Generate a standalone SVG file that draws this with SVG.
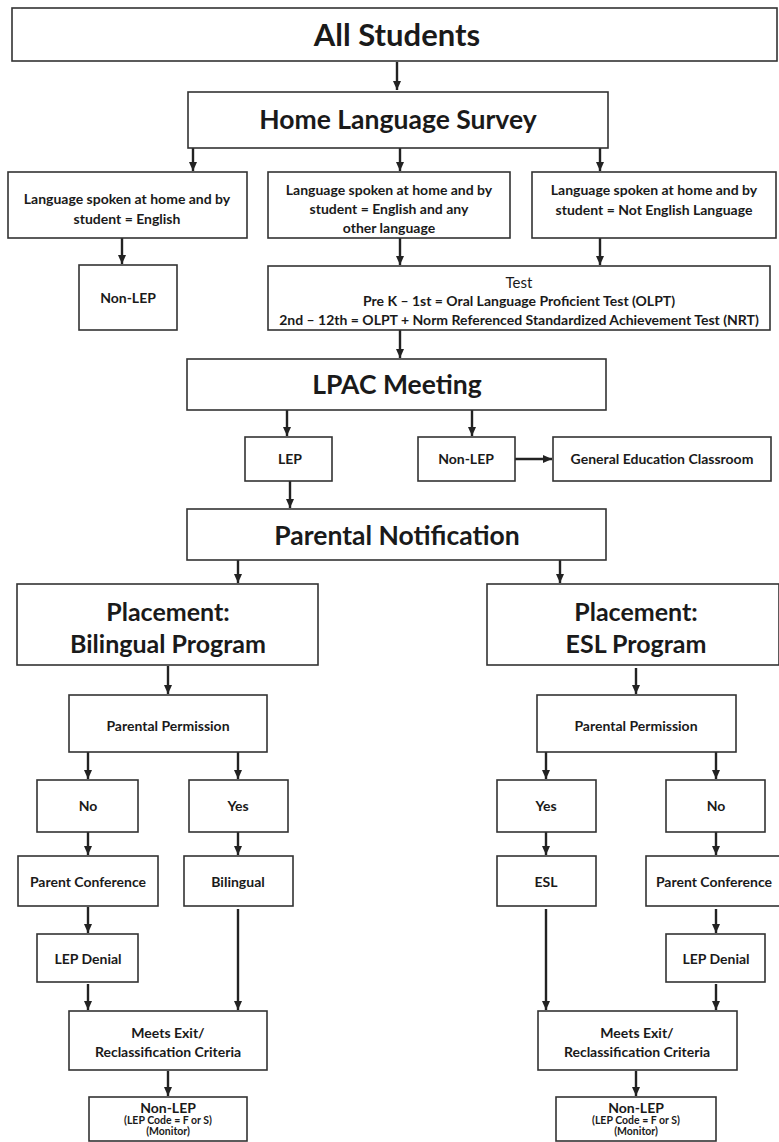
<svg xmlns="http://www.w3.org/2000/svg" width="779" height="1142" viewBox="0 0 779 1142">
<style>
.b{fill:#fff;stroke:#333;stroke-width:1.6}
text{font-family:Lato,"Open Sans","Liberation Sans",sans-serif;font-weight:bold;fill:#1a1a1a;text-anchor:middle}
.xl{font-size:31px}
.l{font-size:26.5px}
.m{font-size:25px}
.s{font-size:14px}
.sn{font-size:15px;font-weight:normal}
.t{font-size:14px}
.xs{font-size:10.5px}
.c{stroke:#222;stroke-width:2.4;fill:none;marker-end:url(#a)}
</style>
<defs>
<marker id="a" markerUnits="userSpaceOnUse" markerWidth="9" markerHeight="8" refX="9" refY="4" orient="auto" viewBox="0 0 9 8">
<path d="M0,0 L9,4 L0,8 Z" fill="#222"/>
</marker>
</defs>
<g id="connectors">
<path class="c" d="M397,62 V90"/>
<path class="c" d="M193,148 V171"/>
<path class="c" d="M400,148 V171"/>
<path class="c" d="M600,148 V171"/>
<path class="c" d="M122,238 V264"/>
<path class="c" d="M400,238 V265"/>
<path class="c" d="M600,238 V265"/>
<path class="c" d="M400,330 V358"/>
<path class="c" d="M287,410 V436"/>
<path class="c" d="M472,410 V436"/>
<path class="c" d="M515,459 H552"/>
<path class="c" d="M290,481 V508"/>
<path class="c" d="M238,560 V583"/>
<path class="c" d="M560,560 V583"/>
<path class="c" d="M168,666 V694"/>
<path class="c" d="M636,668 V694"/>
<path class="c" d="M88,752 V779"/>
<path class="c" d="M238,752 V779"/>
<path class="c" d="M546,752 V779"/>
<path class="c" d="M716,752 V779"/>
<path class="c" d="M88,832 V855"/>
<path class="c" d="M238,832 V855"/>
<path class="c" d="M546,832 V855"/>
<path class="c" d="M716,832 V855"/>
<path class="c" d="M88,907 V933"/>
<path class="c" d="M716,909 V933"/>
<path class="c" d="M238,909 V1010"/>
<path class="c" d="M546,909 V1010"/>
<path class="c" d="M88,984 V1010"/>
<path class="c" d="M716,984 V1010"/>
<path class="c" d="M168,1071 V1096"/>
<path class="c" d="M636,1071 V1096"/>
</g>
<g id="all-students"><rect class="b" x="12" y="8" width="765" height="53"/><text class="xl" x="397" y="46">All Students</text></g>
<g id="home-language-survey"><rect class="b" x="188" y="92" width="420" height="56"/><text class="l" x="398" y="129">Home Language Survey</text></g>
<g id="lang-english"><rect class="b" x="8" y="172" width="239" height="66"/><text class="s" x="127" y="204">Language spoken at home and by</text><text class="s" x="127" y="224">student = English</text></g>
<g id="lang-english-other"><rect class="b" x="268" y="172" width="242" height="66"/><text class="s" x="389" y="195">Language spoken at home and by</text><text class="s" x="389" y="214">student = English and any</text><text class="s" x="389" y="233">other language</text></g>
<g id="lang-not-english"><rect class="b" x="532" y="172" width="244" height="66"/><text class="s" x="654" y="195">Language spoken at home and by</text><text class="s" x="654" y="215">student = Not English Language</text></g>
<g id="non-lep-1"><rect class="b" x="79" y="265" width="98" height="65"/><text class="s" x="128" y="303">Non-LEP</text></g>
<g id="test"><rect class="b" x="268" y="266" width="502" height="64"/><text class="sn" x="519" y="288">Test</text><text class="s" x="519" y="306">Pre K – 1st = Oral Language Proficient Test (OLPT)</text><text class="s" x="519" y="325">2nd – 12th = OLPT + Norm Referenced Standardized Achievement Test (NRT)</text></g>
<g id="lpac-meeting"><rect class="b" x="187" y="359" width="419" height="51"/><text class="l" x="397" y="394">LPAC Meeting</text></g>
<g id="lep"><rect class="b" x="245" y="437" width="87" height="44"/><text class="s" x="290" y="464">LEP</text></g>
<g id="non-lep-2"><rect class="b" x="418" y="437" width="97" height="44"/><text class="s" x="466" y="464">Non-LEP</text></g>
<g id="gen-ed"><rect class="b" x="553" y="437" width="218" height="44"/><text class="s" x="662" y="464">General Education Classroom</text></g>
<g id="parental-notification"><rect class="b" x="187" y="509" width="419" height="51"/><text class="l" x="397" y="545">Parental Notification</text></g>
<g id="placement-bilingual"><rect class="b" x="17" y="584" width="301" height="81"/><text class="m" x="168" y="621">Placement:</text><text class="m" x="168" y="653">Bilingual Program</text></g>
<g id="placement-esl"><rect class="b" x="487" y="584" width="292" height="81"/><text class="m" x="636" y="621">Placement:</text><text class="m" x="636" y="653">ESL Program</text></g>
<g id="pp-left"><rect class="b" x="69" y="695" width="198" height="57"/><text class="s" x="168" y="731">Parental Permission</text></g>
<g id="pp-right"><rect class="b" x="537" y="695" width="199" height="57"/><text class="s" x="636" y="731">Parental Permission</text></g>
<g id="no-left"><rect class="b" x="37" y="780" width="101" height="52"/><text class="s" x="88" y="811">No</text></g>
<g id="yes-left"><rect class="b" x="189" y="780" width="99" height="52"/><text class="s" x="238" y="811">Yes</text></g>
<g id="yes-right"><rect class="b" x="497" y="780" width="99" height="52"/><text class="s" x="546" y="811">Yes</text></g>
<g id="no-right"><rect class="b" x="666" y="780" width="99" height="52"/><text class="s" x="716" y="811">No</text></g>
<g id="pc-left"><rect class="b" x="18" y="856" width="140" height="50"/><text class="s" x="88" y="887">Parent Conference</text></g>
<g id="bilingual"><rect class="b" x="184" y="856" width="109" height="50"/><text class="s" x="238" y="887">Bilingual</text></g>
<g id="esl"><rect class="b" x="497" y="856" width="99" height="50"/><text class="s" x="546" y="887">ESL</text></g>
<g id="pc-right"><rect class="b" x="646" y="856" width="134" height="50"/><text class="s" x="714" y="887">Parent Conference</text></g>
<g id="lep-denial-left"><rect class="b" x="37" y="934" width="101" height="48"/><text class="s" x="88" y="964">LEP Denial</text></g>
<g id="lep-denial-right"><rect class="b" x="666" y="934" width="99" height="48"/><text class="s" x="716" y="964">LEP Denial</text></g>
<g id="exit-left"><rect class="b" x="69" y="1011" width="198" height="59"/><text class="s" x="168" y="1038">Meets Exit/</text><text class="s" x="168" y="1057">Reclassification Criteria</text></g>
<g id="exit-right"><rect class="b" x="538" y="1011" width="199" height="59"/><text class="s" x="637" y="1038">Meets Exit/</text><text class="s" x="637" y="1057">Reclassification Criteria</text></g>
<g id="non-lep-left"><rect class="b" x="89" y="1097" width="158" height="44"/><text class="t" x="168" y="1113">Non-LEP</text><text class="xs" x="168" y="1124">(LEP Code = F or S)</text><text class="xs" x="168" y="1135">(Monitor)</text></g>
<g id="non-lep-right"><rect class="b" x="556" y="1097" width="160" height="44"/><text class="t" x="636" y="1113">Non-LEP</text><text class="xs" x="636" y="1124">(LEP Code = F or S)</text><text class="xs" x="636" y="1135">(Monitor)</text></g>
</svg>
